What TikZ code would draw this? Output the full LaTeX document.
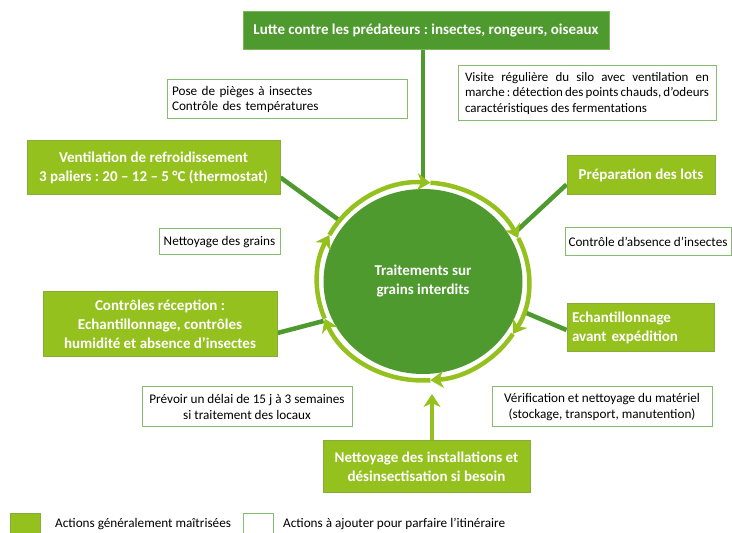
\documentclass[tikz,border=0pt]{standalone}
\usepackage{fontspec}
\setmainfont{Carlito}
\frenchspacing
\usetikzlibrary{arrows.meta,calc,shapes.geometric,backgrounds}
\definecolor{dgreen}{HTML}{4E9A2F}
\definecolor{lgreen}{HTML}{95C11F}
\definecolor{gedge}{HTML}{84AD3A}
\definecolor{tedge}{HTML}{7CB85A}
\definecolor{wedge}{HTML}{86BC6E}
\tikzset{
  gbox/.style={draw=gedge, fill=lgreen, line width=1pt, text=white,
    font=\bfseries\fontsize{15}{19}\selectfont, align=center, inner sep=0pt},
  wbox/.style={draw=wedge, fill=white, line width=1pt, text=black,
    font=\fontsize{13.2}{15.5}\selectfont, align=center, inner sep=0pt},
  conn/.style={draw=dgreen, line width=4.5pt},
  ringarc/.style={draw=lgreen, line width=4.5pt, -{Stealth[length=13pt,width=17pt,inset=4pt]}},
  legtext/.style={font=\fontsize{13.2}{15}\selectfont, anchor=west, inner sep=0pt},
}
\begin{document}
\begin{tikzpicture}[x=1pt,y=1pt]
\useasboundingbox (0,0) rectangle (732,533);
% green action boxes
\node[gbox, fill=dgreen, draw=tedge, minimum width=366pt, minimum height=38pt] (top) at (426,502)
  {Lutte contre les prédateurs : insectes, rongeurs, oiseaux};
\node[gbox, minimum width=253pt, minimum height=54pt] (ventil) at (153.5,365)
  {Ventilation de refroidissement\\3 paliers : 20 – 12 – 5 °C (thermostat)};
\node[gbox, minimum width=148pt, minimum height=39pt] (prep) at (641,357.5)
  {Préparation des lots};
\node[gbox, minimum width=234pt, minimum height=65pt] (ctrl) at (160,208.5)
  {Contrôles réception :\\Echantillonnage, contrôles\\humidité et absence d’insectes};
\node[gbox, align=left, inner xsep=5pt, text width=137pt, minimum width=147pt, minimum height=48pt] (echant) at (640.5,205)
  {Echantillonnage\\avant expédition};
\node[gbox, minimum width=207pt, minimum height=52pt] (nettinst) at (426.5,66)
  {Nettoyage des installations et\\désinsectisation si besoin};
% white boxes
\node[wbox, align=left, inner xsep=5pt, text width=230pt, minimum width=240pt, minimum height=39pt] (pose) at (287,433.5)
  {Pose de pièges à insectes\\Contrôle des températures};
\node[wbox, align=justify, inner xsep=7pt, text width=244pt, minimum width=258pt, minimum height=55pt,
  font=\fontsize{13}{15.5}\selectfont] (visite) at (587,439.5)
  {Visite régulière du silo avec ventilation en\linebreak marche : détection des points chauds, d’odeurs\\caractéristiques des fermentations};
\node[wbox, minimum width=121pt, minimum height=26pt] (nettgr) at (219.5,291) {Nettoyage des grains};
\node[wbox, minimum width=166pt, minimum height=28pt] (absence) at (648,291) {Contrôle d’absence d’insectes};
\node[wbox, minimum width=210pt, minimum height=40pt] (prevoir) at (247,126)
  {Prévoir un délai de 15 j à 3 semaines\\si traitement des locaux};
\node[wbox, minimum width=220pt, minimum height=40pt] (verif) at (602,126)
  {Vérification et nettoyage du matériel\\(stockage, transport, manutention)};
% central circle
\node[ellipse, fill=dgreen, text=white, minimum width=199pt, minimum height=185pt, inner sep=0pt,
  font=\bfseries\fontsize{15}{19}\selectfont, align=center] (C) at (423,251.5)
  {Traitements sur\\grains interdits};
% ring attachment points
\coordinate (rt) at ($(C.center)+(90:108 and 101)$);
\coordinate (rv) at ($(C.center)+(142:108 and 101)$);
\coordinate (rp) at ($(C.center)+(30:108 and 101)$);
\coordinate (re) at ($(C.center)+(-18:108 and 101)$);
\coordinate (rc) at ($(C.center)+(203:108 and 101)$);
\coordinate (rb) at (432,139);
% connectors
\begin{scope}[on background layer]
\draw[conn] (top.south -| rt) -- (rt);
\draw[conn] ($(ventil.south east)+(0,18)$) -- (rv);
\draw[conn] ($(prep.south west)+(0,11)$) -- (rp);
\draw[conn] ($(echant.west)+(0,-2)$) -- (re);
\draw[conn] ($(ctrl.east)+(0,-8.5)$) -- (rc);
\end{scope}
\draw[ringarc] (nettinst.north -| rb) -- (rb);
% cyclic ring
\foreach \a/\b in {152/86, 86/26, 26/-32, -32/-86, -86/-158, 202/152}
  \draw[ringarc] ($(C.center)+(\a:106 and 99)$) arc[start angle=\a, end angle=\b, x radius=106, y radius=99];
% legend
\node[draw=gedge, fill=lgreen, line width=1pt, minimum width=30pt, minimum height=21pt, inner sep=0pt] (lg1) at (25,8.5) {};
\node[legtext] (lt1) at (55,9) {Actions généralement maîtrisées};
\node[draw=wedge, fill=white, line width=1pt, minimum width=30pt, minimum height=21pt, inner sep=0pt] (lg2) at (258,8.5) {};
\node[legtext] (lt2) at (283,9) {Actions à ajouter pour parfaire l’itinéraire};
\end{tikzpicture}
\end{document}
